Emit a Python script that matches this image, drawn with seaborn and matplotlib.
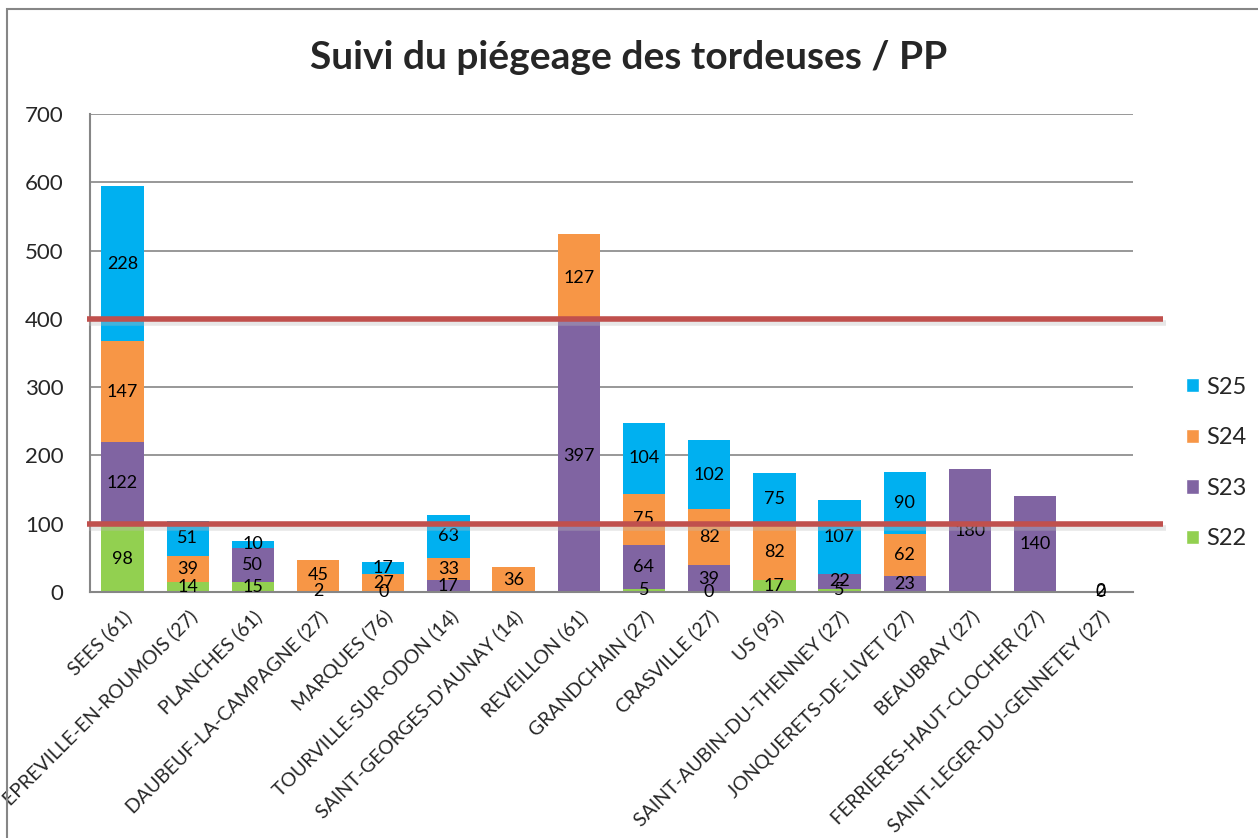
import numpy as np
import pandas as pd
import seaborn as sns
import matplotlib.pyplot as plt
from matplotlib.patches import Patch, Rectangle
import matplotlib.patheffects as pe

communes = ['SEES (61)', 'EPREVILLE-EN-ROUMOIS (27)', 'PLANCHES (61)', 'DAUBEUF-LA-CAMPAGNE (27)',
            'MARQUES (76)', 'TOURVILLE-SUR-ODON (14)', "SAINT-GEORGES-D'AUNAY (14)", 'REVEILLON (61)',
            'GRANDCHAIN (27)', 'CRASVILLE (27)', 'US (95)', 'SAINT-AUBIN-DU-THENNEY (27)',
            'JONQUERETS-DE-LIVET (27)', 'BEAUBRAY (27)', 'FERRIERES-HAUT-CLOCHER (27)',
            'SAINT-LEGER-DU-GENNETEY (27)']
nan = np.nan
s22 = [98, 14, 15, nan, nan, nan, nan, nan, 5, 0, 17, 5, nan, nan, nan, nan]
s23 = [122, nan, 50, 2, 0, 17, nan, 397, 64, 39, nan, 22, 23, 180, 140, 0]
s24 = [147, 39, nan, 45, 27, 33, 36, 127, 75, 82, 82, nan, 62, nan, nan, 2]
s25 = [228, 51, 10, nan, 17, 63, nan, nan, 104, 102, 75, 107, 90, nan, nan, nan]
seuils = [400, 100]

series = ['S22', 'S23', 'S24', 'S25']
colors = {'S22': '#92D050', 'S23': '#8064A2', 'S24': '#F79646', 'S25': '#00B0F0'}

df = pd.DataFrame({'commune': communes, 'S22': s22, 'S23': s23, 'S24': s24, 'S25': s25})
vals = df[series].fillna(0)
cum = vals.cumsum(axis=1)

sns.set_style('white')
plt.rcParams['font.family'] = ['Lato', 'DejaVu Sans']

fig = plt.figure(figsize=(12.58, 8.38), dpi=100)
ax = fig.add_axes([0.0715, 0.2936, 0.829, 0.5704])

# stacked bars: draw cumulative totals from top series down
for s in reversed(series):
    sns.barplot(x=df['commune'], y=cum[s], color=colors[s], width=0.65,
                saturation=1, ax=ax, linewidth=0, zorder=2)

# data labels
for i in range(len(df)):
    base = 0
    for s in series:
        v = df.loc[i, s]
        if not np.isnan(v):
            ax.text(i, base + v / 2, f'{int(v)}', ha='center', va='center',
                    fontsize=13, color='black', zorder=4)
            base += v

ax.set_ylim(0, 700)
ax.set_xlim(-0.5, len(df) - 0.5)
ax.set_yticks(range(0, 701, 100))
ax.yaxis.grid(True, color='#868686', linewidth=1.2, zorder=0)
ax.set_axisbelow(True)
for side in ['top', 'right']:
    ax.spines[side].set_visible(False)
for side in ['left', 'bottom']:
    ax.spines[side].set_color('#868686')
    ax.spines[side].set_linewidth(1.5)
ax.tick_params(axis='y', labelsize=16, length=0, pad=19)
ax.tick_params(axis='x', length=0, pad=11)
ax.set_xticks(range(len(df)))
ax.set_xticklabels(communes, rotation=45, ha='right', rotation_mode='anchor', fontsize=14)
ax.set_xlabel('')
ax.set_ylabel('')

# seuils (red lines), extending past the plot area
for y in seuils:
    ax.plot([-0.55, 15.97], [y, y], color='#C0504D', linewidth=4, clip_on=False, zorder=5,
            solid_capstyle='butt',
            path_effects=[pe.SimpleLineShadow(offset=(1.5, -3), shadow_color='#bbbbbb', alpha=0.35),
                          pe.Normal()])

fig.suptitle('Suivi du piégeage des tordeuses / PP', fontsize=28, fontweight='bold', y=0.952)

handles = [Patch(facecolor=colors[s], label=s) for s in reversed(series)]
fig.legend(handles=handles, loc='center left', bbox_to_anchor=(0.926, 0.4475), frameon=False,
           fontsize=17, handlelength=0.55, handleheight=0.55, handletextpad=0.3, labelspacing=1.25)

fig.patches.append(Rectangle((7 / 1258, -0.1), 1.2, 1 - 9 / 838 + 0.1, transform=fig.transFigure,
                             fill=False, edgecolor='#868686', linewidth=1.5))

fig.savefig('out.png', dpi=100)
